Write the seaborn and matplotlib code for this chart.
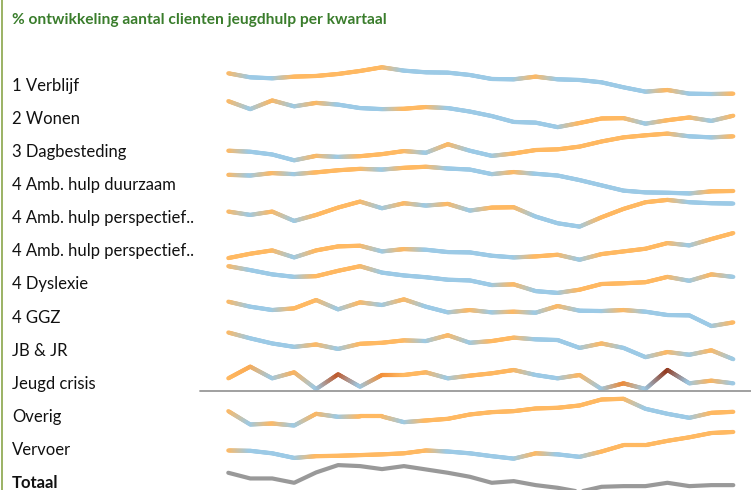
import numpy as np
import pandas as pd
import matplotlib
matplotlib.use("Agg")
import matplotlib.pyplot as plt
import matplotlib.transforms as mtrans
from matplotlib.collections import LineCollection
from matplotlib.colors import LinearSegmentedColormap, to_rgb
import seaborn as sns

# kwartalen (24 stuks)
kwartalen = list(range(24))

labels = ["1 Verblijf", "2 Wonen", "3 Dagbesteding", "4 Amb. hulp duurzaam",
          "4 Amb. hulp perspectief..", "4 Amb. hulp perspectief..", "4 Dyslexie",
          "4 GGZ", "JB & JR", "Jeugd crisis", "Overig", "Vervoer", "Totaal"]

verblijf = [462, 450, 447, 452, 454, 460, 469, 480, 470, 465, 464, 457,
            445, 444, 452, 444, 442, 435, 420, 407, 412, 401, 400, 401]
wonen = [225, 202, 227, 210, 220, 215, 205, 202, 203, 208, 205, 195,
         182, 165, 163, 150, 162, 175, 176, 160, 170, 178, 168, 183]
dagbesteding = [278, 275, 267, 250, 263, 260, 262, 268, 277, 272, 297, 278,
                263, 270, 280, 282, 290, 305, 317, 323, 328, 320, 317, 320]
amb_duurzaam = [853, 851, 858, 855, 860, 866, 870, 868, 873, 876, 871, 868,
                855, 861, 856, 851, 838, 823, 808, 803, 802, 800, 806, 807]
amb_persp1 = [545, 535, 545, 517, 535, 557, 575, 555, 570, 563, 568, 548,
              557, 558, 530, 510, 500, 528, 553, 573, 580, 573, 570, 569]
amb_persp2 = [405, 418, 428, 407, 428, 440, 442, 425, 432, 430, 423, 422,
              412, 407, 410, 415, 400, 417, 425, 433, 450, 443, 462, 480]
dyslexie = [195, 184, 172, 165, 167, 182, 195, 177, 169, 164, 157, 155,
            142, 144, 125, 120, 129, 145, 147, 150, 165, 154, 172, 165]
ggz = [1073, 1058, 1048, 1053, 1078, 1050, 1071, 1063, 1080, 1058, 1041, 1048,
       1041, 1043, 1040, 1060, 1046, 1045, 1048, 1043, 1033, 1032, 1000, 1011]
jb_jr = [678, 661, 646, 636, 643, 630, 645, 648, 655, 653, 670, 648,
         653, 663, 658, 656, 633, 646, 633, 606, 621, 613, 626, 600]
jeugd_crisis = [7.4, 14.4, 7.4, 11, 1, 9.8, 2.4, 9.4, 9.4, 11, 7.4, 9,
                10.4, 12.4, 9.4, 7.4, 9.4, 1, 4.4, 1, 12.4, 4.4, 6, 4.4]
overig = [223, 183, 186, 180, 215, 206, 207, 207, 190, 195, 200, 213,
          220, 223, 231, 233, 240, 258, 260, 230, 215, 203, 218, 221]
vervoer = [253, 252, 245, 232, 237, 238, 240, 242, 245, 253, 250, 245,
           237, 230, 245, 242, 235, 250, 268, 268, 280, 290, 302, 305]
totaal = [3857, 3840, 3840, 3827, 3858, 3880, 3877, 3868, 3877, 3867, 3857, 3845,
          3827, 3832, 3820, 3812, 3800, 3815, 3817, 3817, 3827, 3817, 3820, 3820]

reeksen = [verblijf, wonen, dagbesteding, amb_duurzaam, amb_persp1, amb_persp2,
           dyslexie, ggz, jb_jr, jeugd_crisis, overig, vervoer, totaal]

sns.set_theme(style="white")
plt.rcParams["font.family"] = ["Lato", "DejaVu Sans"]

W, H = 751, 490
fig = plt.figure(figsize=(W / 100, H / 100), dpi=100)

blauw = "#9ccae6"
oranje_cmap = LinearSegmentedColormap.from_list(
    "stijging", [(0, "#ffb962"), (0.25, "#f28c35"), (0.72, "#c45a2a"), (1, "#8a3018")])


def punt_kleuren(v):
    kleuren = [to_rgb("#ffb962")]
    for i in range(1, len(v)):
        pct = (v[i] - v[i - 1]) / abs(v[i - 1])
        if pct < 0:
            kleuren.append(to_rgb(blauw))
        else:
            kleuren.append(oranje_cmap(min(pct / 12, 1))[:3])
    return np.array(kleuren)


def verloop_lijn(ax, x, y, kleuren, n=20):
    segs, cols = [], []
    for i in range(len(x) - 1):
        for k in range(n):
            t0, t1 = k / n, (k + 1) / n
            segs.append([(x[i] + (x[i + 1] - x[i]) * t0, y[i] + (y[i + 1] - y[i]) * t0),
                         (x[i] + (x[i + 1] - x[i]) * t1, y[i] + (y[i + 1] - y[i]) * t1)])
            tm = (t0 + t1) / 2
            cols.append(kleuren[i] * (1 - tm) + kleuren[i + 1] * tm)
    lc = LineCollection(segs, colors=cols, linewidths=3.0, capstyle="round",
                        joinstyle="round", clip_on=False)
    ax.add_collection(lc)


x0, x1 = 228.3, 733.3
for i, (naam, waarden) in enumerate(zip(labels, reeksen)):
    label_y = 84 + 33.15 * i
    top = label_y - 16.7
    ax = fig.add_axes([x0 / W, 1 - (top + 26.7) / H, (x1 - x0) / W, 26.7 / H])
    ax.set_axis_off()
    ax.set_xlim(0, 23)
    if naam == "Totaal":
        df = pd.DataFrame({"kwartaal": kwartalen, "waarde": waarden})
        sns.lineplot(data=df, x="kwartaal", y="waarde", ax=ax, color="#999999",
                     linewidth=3.0, solid_capstyle="round", clip_on=False)
        ax.set_axis_off()
    else:
        verloop_lijn(ax, kwartalen, waarden, punt_kleuren(waarden))
    if naam == "Jeugd crisis":
        ax.set_ylim(-1, 15)
        tr = mtrans.blended_transform_factory(fig.transFigure, ax.transData)
        ax.plot([200 / W, 1], [0, 0], color="#999999", lw=1.3, transform=tr, clip_on=False)
    else:
        ax.set_ylim(min(waarden), max(waarden))
    fig.text(12 / W, 1 - (label_y + 1.5) / H, naam, fontsize=12, color="#111111", va="center",
             fontweight="bold" if naam == "Totaal" else "normal")

fig.text(12 / W, 1 - 20 / H, "% ontwikkeling aantal clienten jeugdhulp per kwartaal",
         fontsize=11.2, fontweight="bold", color="#3a7d2c", va="center")
fig.add_artist(plt.Line2D([1.5 / W, 1.5 / W], [0, 1], color="#8aa64a", lw=1.2))

fig.savefig("out.png", dpi=100)
